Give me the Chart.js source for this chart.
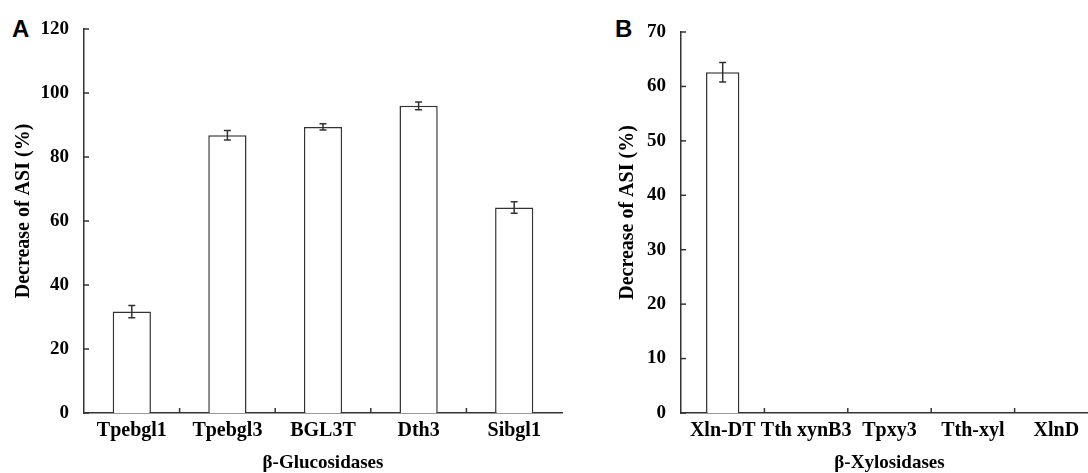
<!DOCTYPE html>
<html>
<head>
<meta charset="utf-8">
<script src="https://cdn.jsdelivr.net/npm/chart.js@4.4.1/dist/chart.umd.min.js"></script>
<style>
    html, body { margin: 0; padding: 0; background: #fff; overflow: hidden; width: 1088px; height: 473px; }
    .panel { position: absolute; top: 0; }
    .letter { position: absolute; font: bold 24px "Liberation Sans", Arial, sans-serif; color: #000; }
</style>
</head>
<body>
<div class="letter" style="left:12px; top:15px;">A</div>
<div class="letter" style="left:615px; top:15px;">B</div>
<canvas id="chart-a" class="panel" style="left:0px;" width="570" height="473"></canvas>
<canvas id="chart-b" class="panel" style="left:604px;" width="500" height="473"></canvas>
<script>
const glucLabels = ['Tpebgl1', 'Tpebgl3', 'BGL3T', 'Dth3', 'Sibgl1'];
const glucValues = [31.7, 86.8, 89.4, 96.0, 64.2];
const glucErrors = [1.9, 1.5, 1.0, 1.2, 1.8];

const xylLabels = ['Xln-DT', 'Tth xynB3', 'Tpxy3', 'Tth-xyl', 'XlnD'];
const xylValues = [62.6, 0, 0, 0, 0];
const xylErrors = [1.8, 0, 0, 0, 0];

const yTitle = 'Decrease of ASI (%)';

const axisColor = '#333';
const fontFamily = '"Liberation Serif", "Times New Roman", serif';
const serif = { family: fontFamily, weight: 'bold', size: 19 };

// error bars, inward tick marks and the y title, positioned through the chart's scales
const extrasPlugin = {
    id: 'extras',
    afterDatasetsDraw(chart, args, opts) {
        const ctx = chart.ctx;
        const x = chart.scales.x;
        const y = chart.scales.y;
        const area = chart.chartArea;
        const meta = chart.getDatasetMeta(0);
        const values = chart.data.datasets[0].data;
        ctx.save();
        ctx.strokeStyle = axisColor;
        ctx.lineWidth = 1.5;
        meta.data.forEach((bar, i) => {
            const err = opts.errors[i];
            if (!err) return;
            const top = y.getPixelForValue(values[i] + err);
            const bottom = y.getPixelForValue(values[i] - err);
            ctx.beginPath();
            ctx.moveTo(bar.x, top);
            ctx.lineTo(bar.x, bottom);
            ctx.moveTo(bar.x - 3.5, top);
            ctx.lineTo(bar.x + 3.5, top);
            ctx.moveTo(bar.x - 3.5, bottom);
            ctx.lineTo(bar.x + 3.5, bottom);
            ctx.stroke();
        });
        // y ticks pointing into the plot
        y.ticks.forEach(t => {
            const py = y.getPixelForValue(t.value);
            ctx.beginPath();
            ctx.moveTo(area.left, py);
            ctx.lineTo(area.left + 5, py);
            ctx.stroke();
        });
        // x ticks between categories
        for (let i = 1; i < values.length; i++) {
            const px = (x.getPixelForValue(i - 1) + x.getPixelForValue(i)) / 2;
            ctx.beginPath();
            ctx.moveTo(px, area.bottom);
            ctx.lineTo(px, area.bottom - 5);
            ctx.stroke();
        }
        // y axis title, sitting a little above the axis middle like the original
        ctx.translate(y.left + opts.titleX, (area.top + area.bottom) / 2 - 10);
        ctx.rotate(-Math.PI / 2);
        ctx.fillStyle = '#000';
        ctx.font = 'bold 20px ' + fontFamily;
        ctx.textAlign = 'center';
        ctx.textBaseline = 'middle';
        ctx.fillText(yTitle, 0, 0);
        ctx.restore();
    }
};

function makePanel(id, labels, values, errors, yMax, yStep, xTitle, yWidth, pad) {
    const ctx = document.getElementById(id);
    return new Chart(ctx, {
        type: 'bar',
        data: {
            labels: labels,
            datasets: [{
                data: values,
                backgroundColor: '#fff',
                borderColor: axisColor,
                borderWidth: 1.5,
                borderSkipped: 'bottom',
                categoryPercentage: 1,
                barPercentage: 0.4
            }]
        },
        plugins: [extrasPlugin],
        options: {
            responsive: false,
            animation: false,
            devicePixelRatio: 1,
            layout: { padding: pad },
            plugins: {
                legend: { display: false },
                tooltip: { enabled: false },
                extras: { errors: errors, titleX: 24 }
            },
            scales: {
                x: {
                    grid: { display: false, drawTicks: false },
                    border: { display: true, color: axisColor, width: 1.5 },
                    ticks: { color: '#000', font: { ...serif, size: 20 }, padding: 6, maxRotation: 0, autoSkip: false },
                    title: {
                        display: true,
                        text: xTitle,
                        color: '#000',
                        font: { ...serif, lineHeight: 1.0 },
                        padding: { top: 0, bottom: 0 }
                    },
                    afterFit: scale => { scale.height = 60; }
                },
                y: {
                    min: 0,
                    max: yMax,
                    grid: { display: false, drawTicks: false },
                    border: { display: true, color: axisColor, width: 1.5 },
                    ticks: { stepSize: yStep, color: '#000', font: serif, padding: 15 },
                    afterFit: scale => { scale.width = yWidth; }
                }
            }
        }
    });
}

makePanel('chart-a', glucLabels, glucValues, glucErrors, 120, 20, 'β-Glucosidases', 84,
    { top: 29, right: 8, left: 0, bottom: 0 });
makePanel('chart-b', xylLabels, xylValues, xylErrors, 70, 10, 'β-Xylosidases', 77,
    { top: 32, right: 6, left: 0, bottom: 0 });
</script>
</body>
</html>
